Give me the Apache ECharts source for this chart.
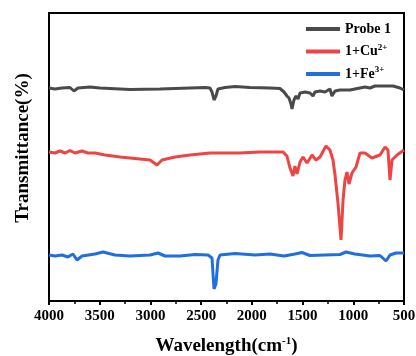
<!DOCTYPE html>
<html>
<head>
<meta charset="utf-8">
<script src="https://cdn.jsdelivr.net/npm/echarts@6/dist/echarts.min.js"></script>
<style>
	html, body { margin: 0; padding: 0; background: #fff; }
	#chart { width: 416px; height: 356px; }
</style>
</head>
<body>
<div id="chart"></div>
<script>
// wavenumber (cm-1) / relative transmittance
var probe_w = [4000, 3941, 3872, 3793, 3754, 3714, 3596, 3497, 3201, 2906, 2610, 2462, 2413, 2393, 2373, 2354, 2334, 2265, 2166, 2018, 1821, 1723, 1683, 1654, 1634, 1614, 1604, 1585, 1565, 1545, 1525, 1476, 1427, 1397, 1378, 1328, 1279, 1230, 1210, 1180, 1131, 1032, 934, 885, 835, 786, 687, 608, 539, 500];
var probe_v = [213, 212, 213, 213.5, 210, 213, 214, 213, 211.5, 212, 213, 213.5, 213, 209, 201, 205, 212, 213.5, 214.5, 213.5, 213, 212.5, 209, 205, 203, 197, 192, 201, 205, 202, 208, 209, 208, 205, 209, 210, 209, 212, 205, 210, 211, 211, 213, 214, 213, 215, 215, 215, 213, 211];

var cu_w = [4000, 3941, 3892, 3842, 3793, 3744, 3675, 3616, 3546, 3448, 3300, 3103, 3004, 2935, 2886, 2758, 2610, 2413, 2117, 1920, 1693, 1654, 1624, 1594, 1575, 1555, 1525, 1496, 1456, 1407, 1368, 1328, 1269, 1230, 1200, 1180, 1151, 1121, 1101, 1082, 1062, 1042, 1013, 973, 934, 885, 816, 737, 687, 658, 638, 618, 569, 500];
var cu_v = [149, 148, 150, 148, 150.5, 148, 150, 148, 148, 146, 144, 142, 141, 136, 141, 144, 146, 148, 148, 149, 149, 145, 133, 125, 135, 127, 139, 144, 138, 146, 141, 144, 155, 151, 141, 126, 98, 61, 101, 121, 129, 117, 128, 134, 148, 148, 143, 146, 154, 151, 121, 141, 146, 151];

var fe_w = [4000, 3941, 3872, 3813, 3764, 3724, 3675, 3546, 3468, 3349, 3201, 3004, 2925, 2856, 2708, 2561, 2432, 2393, 2373, 2354, 2334, 2314, 2166, 1969, 1821, 1683, 1575, 1506, 1427, 1279, 1131, 1072, 984, 835, 737, 677, 638, 579, 500];
var fe_v = [46, 45, 46, 44, 47, 41, 45, 47, 49, 46, 45, 46, 48, 45, 45, 46.5, 46, 43, 12, 17, 41, 46, 47.5, 46, 47, 45, 47, 48.5, 45.5, 46, 46.5, 49, 47, 45, 45.5, 40, 46, 48, 48];

var x_ticks = [500, 1000, 1500, 2000, 2500, 3000, 3500, 4000];
var legend_names = ['Probe 1', '1+Cu2+', '1+Fe3+'];

function pairs(w, v) {
	var out = [];
	for (var i = 0; i < w.length; i++) {
		out.push([w[i], v[i]]);
	}
	return out;
}

var serif = '"Liberation Serif", "Times New Roman", serif';

var myChart = echarts.init(document.getElementById('chart'));
var option = {
	animation: false,
	grid: {
		left: 49, right: 12, top: 13, bottom: 55,
		outerBoundsMode: 'none',
		show: true, borderColor: '#000', borderWidth: 2
	},
	legend: {
		data: legend_names,
		orient: 'vertical',
		right: 20,
		top: 17,
		itemWidth: 34,
		itemHeight: 4,
		itemGap: 7,
		icon: 'rect',
		formatter: function(name) {
			if (name == '1+Cu2+') return '{t|1+Cu}{s|2+}';
			if (name == '1+Fe3+') return '{t|1+Fe}{s|3+}';
			return '{t|' + name + '}';
		},
		textStyle: {
			rich: {
				t: { fontFamily: serif, fontWeight: 'bold', fontSize: 14, color: '#000' },
				s: { fontFamily: serif, fontWeight: 'bold', fontSize: 9, color: '#000', verticalAlign: 'bottom', padding: [0, 0, 8, 0] }
			}
		}
	},
	xAxis: {
		type: 'value',
		inverse: true,
		min: 500,
		max: 4000,
		interval: 500,
		name: '{a|Wavelength(cm}{b|-1}{a|)}',
		nameLocation: 'middle',
		nameGap: 35,
		nameTextStyle: {
			rich: {
				a: { fontFamily: serif, fontWeight: 'bold', fontSize: 19, color: '#000' },
				b: { fontFamily: serif, fontWeight: 'bold', fontSize: 11, color: '#000', padding: [0, 0, 10, 0] }
			}
		},
		axisLine: { lineStyle: { color: '#000', width: 2 } },
		axisTick: { show: true, length: 4, lineStyle: { color: '#000', width: 2 } },
		minorTick: { show: true, splitNumber: 2, length: 3, lineStyle: { color: '#000', width: 1.5 } },
		splitLine: { show: false },
		axisLabel: {
			fontFamily: serif, fontWeight: 'bold', fontSize: 15, color: '#000', margin: 8,
			formatter: function(v) { return x_ticks.indexOf(v) >= 0 ? String(v) : ''; }
		}
	},
	yAxis: {
		type: 'value',
		min: 0,
		max: 288,
		name: 'Transmittance(%)',
		nameLocation: 'middle',
		nameRotate: 90,
		nameGap: 16,
		nameTextStyle: { fontFamily: serif, fontWeight: 'bold', fontSize: 19, color: '#000', padding: [0, 0, 0, 18] },
		axisLine: { show: true, lineStyle: { color: '#000', width: 2 } },
		axisTick: { show: false },
		axisLabel: { show: false },
		splitLine: { show: false }
	},
	series: [
		{ name: 'Probe 1', type: 'line', data: pairs(probe_w, probe_v), showSymbol: false, lineStyle: { color: '#4a4a4a', width: 3 }, itemStyle: { color: '#4a4a4a' } },
		{ name: '1+Cu2+', type: 'line', data: pairs(cu_w, cu_v), showSymbol: false, lineStyle: { color: '#ef4444', width: 3 }, itemStyle: { color: '#ef4444' } },
		{ name: '1+Fe3+', type: 'line', data: pairs(fe_w, fe_v), showSymbol: false, lineStyle: { color: '#1f6fe0', width: 3 }, itemStyle: { color: '#1f6fe0' } }
	]
};
myChart.setOption(option);
</script>
</body>
</html>
